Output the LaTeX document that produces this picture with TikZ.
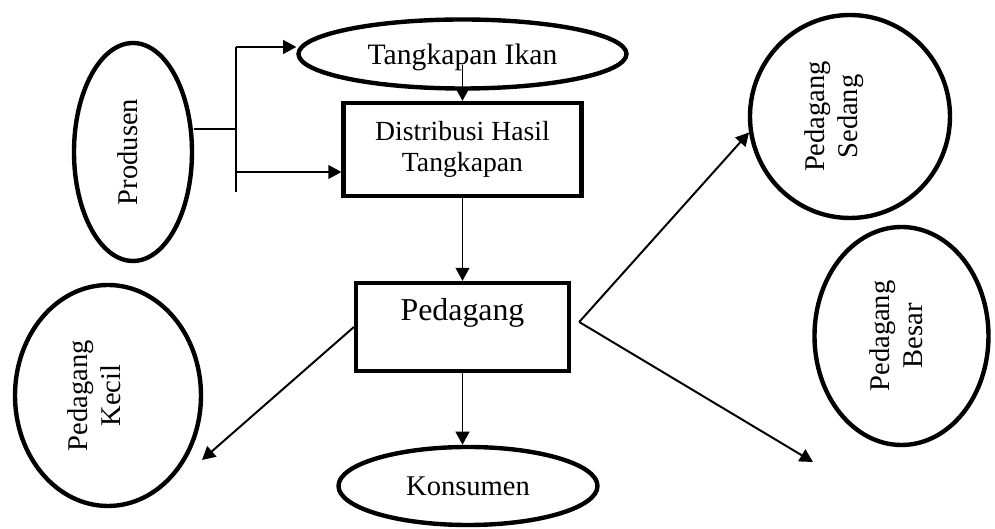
\documentclass[tikz,border=0pt]{standalone}
\usepackage{fontspec}
\setmainfont{Liberation Serif}
\usetikzlibrary{arrows.meta, calc, shapes.geometric}

\begin{document}
\begin{tikzpicture}[>={Triangle[length=2.1mm, width=2.2mm]},
  every node/.style={font=\fontsize{13}{15}\selectfont},
  bubble/.style={draw, ellipse, line width=2pt, inner sep=0pt},
  kotak/.style={draw, rectangle, line width=1.9pt, align=center, inner sep=0pt},
  tegak/.style={align=center, rotate=90},
  conn/.style={line width=0.9pt}]
  \useasboundingbox (0,0) rectangle (15.92,-8.464);
  % nodes
  \node[bubble, minimum width=1.888cm, minimum height=3.488cm, label={[xshift=-0.08cm, tegak]center:Produsen}] (produsen) at (2.128,-2.432) {};
  \node[bubble, minimum width=5.248cm, minimum height=1.104cm, label={[font=\fontsize{13.5}{15}\selectfont, yshift=-0.06cm]center:Tangkapan Ikan}] (tangkapan) at (7.40,-0.864) {};
  \node[kotak, minimum width=3.808cm, minimum height=1.488cm, font=\fontsize{12.6}{13.8}\selectfont] (distribusi) at (7.40,-2.392) {Distribusi Hasil\\Tangkapan};
  \node[kotak, minimum width=3.408cm, minimum height=1.408cm, label={[font=\fontsize{14.5}{17}\selectfont, yshift=0.22cm]center:Pedagang}] (pedagang) at (7.40,-5.232) {};
  \node[bubble, minimum width=4.144cm, minimum height=1.248cm] (konsumen) at (7.488,-7.776) {Konsumen};
  \node[bubble, minimum width=2.976cm, minimum height=3.536cm, label={[xshift=-0.22cm, tegak]center:{Pedagang\\Kecil}}] (kecil) at (1.728,-6.328) {};
  \node[bubble, minimum width=3.2cm, minimum height=3.248cm, label={[xshift=-0.25cm, tegak]center:{Pedagang\\Sedang}}] (sedang) at (13.6,-1.864) {};
  \node[bubble, minimum width=2.784cm, minimum height=3.488cm, label={[xshift=-0.08cm, tegak]center:{Pedagang\\Besar}}] (besar) at (14.424,-5.376) {};
  % junction from produsen
  \coordinate (jn) at (3.776,-2.064);
  \coordinate (jtop) at (3.776,-0.752);
  \coordinate (jlow) at (3.776,-2.752);
  \coordinate (jbot) at (3.776,-3.072);
  \draw[conn] (jn -| produsen.east) -- (jn);
  \draw[conn] (jtop) -- (jbot);
  \draw[conn, ->] (jtop) -- (jtop -| tangkapan.west);
  \draw[conn, ->] (jlow) -- (jlow -| distribusi.west);
  % main column
  \coordinate (tk) at ($(tangkapan.center)+(0,-0.17)$);
  \draw[conn, ->] (tk) -- (tk |- distribusi.north);
  \draw[conn, ->] (distribusi.south) -- (pedagang.north);
  \draw[conn, ->] (pedagang.south) -- (pedagang.south |- konsumen.north);
  % pedagang branches
  \coordinate (kecilend) at (3.232,-7.36);
  \coordinate (pr) at ($(pedagang.east)+(0.13,0.08)$);
  \coordinate (besarend) at (13.008,-7.392);
  \draw[conn, ->] (pedagang.west) -- (kecilend);
  \draw[conn, ->] (pr) -- (sedang.189);
  \draw[conn, ->] (pr) -- (besarend);
\end{tikzpicture}
\end{document}
